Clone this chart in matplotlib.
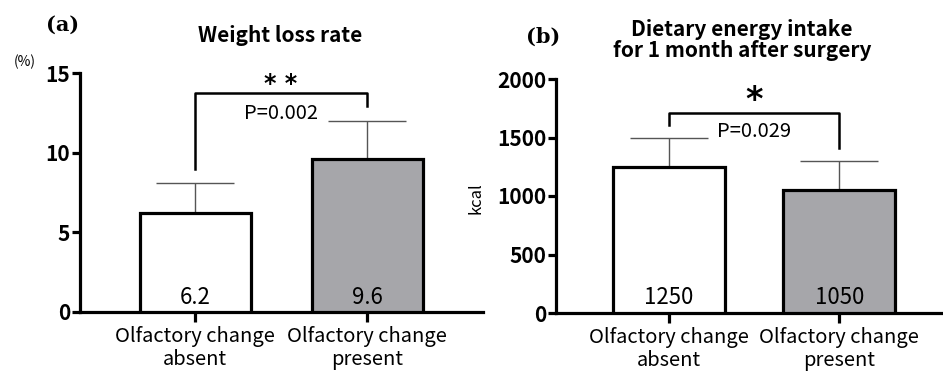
import matplotlib
matplotlib.use("Agg")
import matplotlib.pyplot as plt

plt.rcParams['font.family'] = ['Noto Sans CJK JP', 'DejaVu Sans']

groups = ["Olfactory change\nabsent", "Olfactory change\npresent"]

# (a) weight loss rate, %
loss_mean = [6.2, 9.6]
loss_err = [1.9, 2.4]
loss_labels = ["6.2", "9.6"]

# (b) dietary energy intake, kcal
kcal_mean = [1250, 1050]
kcal_err = [250, 250]
kcal_labels = ["1250", "1050"]

bar_colors = ["white", "#a6a6aa"]

fig = plt.figure(figsize=(9.43, 3.74), dpi=100)

ax_a = fig.add_axes([80 / 943, 62 / 374, 403 / 943, 239 / 374])
ax_b = fig.add_axes([556 / 943, 61 / 374, 387 / 943, 234 / 374])


def draw_panel(ax, means, errs, labels, width, xlim, ylim, yticks, label_y):
    x = range(len(means))
    ax.bar(x, means, width=width, color=bar_colors, edgecolor="black",
           linewidth=2.3, zorder=3)
    ax.errorbar(x, means, yerr=[[0] * len(errs), errs], fmt="none",
                ecolor="#555555", elinewidth=1.0, capsize=28, capthick=1.0,
                zorder=2)
    for xi, lab in zip(x, labels):
        ax.text(xi, label_y, lab, ha="center", va="bottom", fontsize=16,
                zorder=4)
    ax.set_xlim(*xlim)
    ax.set_ylim(*ylim)
    ax.set_yticks(yticks)
    ax.set_xticks(list(x))
    ax.set_xticklabels(groups, fontsize=14.5, linespacing=1.15)
    for lab in ax.get_yticklabels():
        lab.set_fontweight("bold")
        lab.set_fontsize(15)
    for side in ["top", "right"]:
        ax.spines[side].set_visible(False)
    for side in ["left", "bottom"]:
        ax.spines[side].set_linewidth(2.3)
    ax.tick_params(axis="y", length=6, width=2.3, pad=1)
    ax.tick_params(axis="x", length=7, width=2.3, pad=3)


draw_panel(ax_a, loss_mean, loss_err, loss_labels, 0.645,
           (-0.669, 1.674), (0, 15), [0, 5, 10, 15], 0.2)
draw_panel(ax_b, kcal_mean, kcal_err, kcal_labels, 0.66,
           (-0.665, 1.61), (0, 2000), [0, 500, 1000, 1500, 2000], 30)

# significance brackets
ax_a.plot([0, 0, 1, 1], [9.0, 13.75, 13.75, 12.9], color="black", lw=1.8,
          clip_on=False, zorder=5)
ax_a.text(0.5, 14.3, "* *", ha="center", va="center", fontsize=17,
          fontweight="bold", family="DejaVu Sans")
ax_a.text(0.5, 12.45, "P=0.002", ha="center", va="center", fontsize=14.5)

ax_b.plot([0, 0, 1, 1], [1610, 1710, 1710, 1410], color="black", lw=1.8,
          clip_on=False, zorder=5)
ax_b.text(0.5, 1820, "*", ha="center", va="center", fontsize=24,
          fontweight="bold", family="DejaVu Sans")
ax_b.text(0.5, 1555, "P=0.029", ha="center", va="center", fontsize=14.5)

# titles and panel letters
fig.text(280 / 943, 1 - 35 / 374, "Weight loss rate", ha="center",
         va="center", fontsize=15, fontweight="bold")
fig.text(742 / 943, 1 - 40 / 374, "Dietary energy intake\nfor 1 month after surgery",
         ha="center", va="center", fontsize=15, fontweight="bold",
         linespacing=1.05)
fig.text(63 / 943, 1 - 25 / 374, "(a)", ha="center", va="center",
         fontsize=15, fontweight="bold", family="DejaVu Serif")
fig.text(543 / 943, 1 - 37 / 374, "(b)", ha="center", va="center",
         fontsize=15, fontweight="bold", family="DejaVu Serif")
fig.text(25 / 943, 1 - 62 / 374, "(%)", ha="center", va="center",
         fontsize=10)
fig.text(476 / 943, 1 - 198 / 374, "kcal", ha="center", va="center",
         fontsize=12, rotation=90)

fig.savefig("out.png", dpi=100)
